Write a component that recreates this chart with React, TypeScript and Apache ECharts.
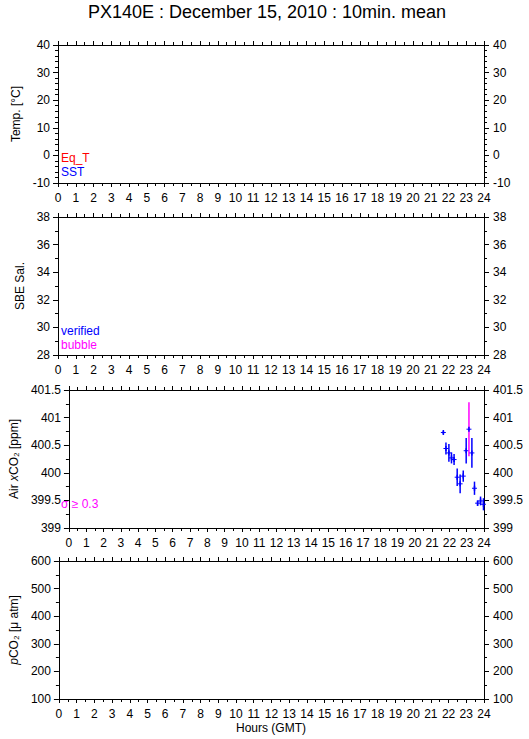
import React, { useEffect, useRef } from "react";
import * as echarts from "echarts";

const TITLE = "PX140E : December 15, 2010 : 10min. mean";
const HOUR_TICKS = [0, 24];

const tempRange = [-10, 40];
const salRange = [28, 38];
const xco2Range = [399, 401.5];
const pco2Range = [100, 600];

// Air xCO2 10-min means (hours GMT, ppm, standard deviation)
const airHours = [21.65, 21.8, 21.97, 22.12, 22.27, 22.45, 22.62, 22.8, 22.97, 23.13, 23.3, 23.45, 23.63, 23.8, 23.97];
const airXco2 = [400.73, 400.44, 400.36, 400.27, 400.24, 399.92, 399.8, 399.94, 400.4, 400.79, 400.36, 399.72, 399.45, 399.49, 399.43];
const airSd = [0.03, 0.11, 0.16, 0.1, 0.1, 0.16, 0.17, 0.1, 0.23, 0.49, 0.27, 0.12, 0.05, 0.08, 0.11];

const FONT = "'Liberation Sans', Arial, Helvetica, sans-serif";
const BLUE = "#0000ff";
const MAGENTA = "#ff00ff";
const RED = "#ff0000";

export default function App() {
  const ref = useRef<HTMLDivElement>(null);
  useEffect(() => {
    if (!ref.current) return;
    const chart = echarts.init(ref.current, null, { renderer: "svg" });
    const tops = [45, 217, 390, 561];
    const H = 138;
    const grids = tops.map((t) => ({ left: 58, width: 426, top: t, height: H }));

    const xAxes: any[] = [];
    const yAxes: any[] = [];
    const panels = [
      { range: tempRange, interval: 10, minor: 5, name: "Temp. [°C]", gap: 26 },
      { range: salRange, interval: 2, minor: 2, name: "SBE Sal.", gap: 27 },
      { range: xco2Range, interval: 0.5, minor: 2, name: "Air {i|x}CO\u2082 [ppm]", gap: 43 },
      { range: pco2Range, interval: 100, minor: 2, name: "{i|p}CO\u2082 [\u03bc atm]", gap: 36 },
    ];
    const lineStyle = { color: "#000", width: 1 };
    panels.forEach((p, i) => {
      const common = {
        type: "value",
        gridIndex: i,
        min: HOUR_TICKS[0],
        max: HOUR_TICKS[1],
        interval: 1,
        splitLine: { show: false },
        axisLine: { show: true, onZero: false, lineStyle },
        axisTick: { show: true, inside: false, length: 4, lineStyle },
        minorTick: { show: true, splitNumber: 2, length: 3, lineStyle },
      };
      xAxes.push({
        ...common,
        position: "bottom",
        axisLabel: { show: true, color: "#000", fontSize: 12, fontFamily: FONT, margin: 9 },
      });
      xAxes.push({ ...common, position: "top", axisLabel: { show: false } });
      const ycommon = {
        type: "value",
        gridIndex: i,
        min: p.range[0],
        max: p.range[1],
        interval: p.interval,
        splitLine: { show: false },
        axisLine: { show: true, onZero: false, lineStyle },
        axisTick: { show: true, inside: false, length: 5, lineStyle },
        minorTick: { show: true, splitNumber: p.minor, length: 3, lineStyle },
      };
      yAxes.push({
        ...ycommon,
        position: "left",
        name: p.name,
        nameLocation: "middle",
        nameGap: p.gap,
        nameTextStyle: {
          color: "#000",
          fontSize: 12,
          fontFamily: FONT,
          rich: { i: { fontStyle: "italic", fontSize: 12, fontFamily: FONT, color: "#000" } },
        },
        axisLabel: { show: true, color: "#000", fontSize: 12, fontFamily: FONT, margin: 8 },
      });
      yAxes.push({
        ...ycommon,
        position: "right",
        axisLabel: { show: true, color: "#000", fontSize: 12, fontFamily: FONT, margin: 9 },
      });
    });

    const airData = airHours.map((h, k) => [h, airXco2[k], airSd[k]]);

    const option: any = {
      animation: false,
      backgroundColor: "#fff",
      grid: grids,
      xAxis: xAxes,
      yAxis: yAxes,
      graphic: [
        { type: "text", x: 267, y: 3, style: { text: TITLE, fontSize: 18, fontFamily: FONT, fill: "#000", textAlign: "center", textVerticalAlign: "top" } },
        { type: "text", x: 271, y: 728, style: { text: "Hours (GMT)", fontSize: 12, fontFamily: FONT, fill: "#000", textAlign: "center", textVerticalAlign: "middle" } },
        { type: "text", x: 61, y: 158, style: { text: "Eq_T", fontSize: 12, fontFamily: FONT, fill: RED, textVerticalAlign: "middle" } },
        { type: "text", x: 61, y: 172, style: { text: "SST", fontSize: 12, fontFamily: FONT, fill: BLUE, textVerticalAlign: "middle" } },
        { type: "text", x: 61, y: 331, style: { text: "verified", fontSize: 12, fontFamily: FONT, fill: BLUE, textVerticalAlign: "middle" } },
        { type: "text", x: 61, y: 345, style: { text: "bubble", fontSize: 12, fontFamily: FONT, fill: MAGENTA, textVerticalAlign: "middle" } },
        { type: "text", x: 61, y: 504, style: { text: "\u03c3 \u2265 0.3", fontSize: 12, fontFamily: FONT, fill: MAGENTA, textVerticalAlign: "middle" } },
      ],
      series: [
        {
          type: "custom",
          xAxisIndex: 4,
          yAxisIndex: 4,
          data: airData,
          renderItem: (params: any, api: any) => {
            const x = api.value(0);
            const y = api.value(1);
            const e = api.value(2);
            const p = api.coord([x, y]);
            const t = api.coord([x, y + e]);
            const b = api.coord([x, y - e]);
            const col = e >= 0.3 ? MAGENTA : BLUE;
            return {
              type: "group",
              children: [
                { type: "line", shape: { x1: p[0], y1: t[1], x2: p[0], y2: b[1] }, style: { stroke: col, lineWidth: 1.5 } },
                { type: "line", shape: { x1: p[0], y1: p[1] - 2.5, x2: p[0], y2: p[1] + 2.5 }, style: { stroke: BLUE, lineWidth: 1.5 } },
                { type: "line", shape: { x1: p[0] - 2.5, y1: p[1], x2: p[0] + 2.5, y2: p[1] }, style: { stroke: BLUE, lineWidth: 1 } },
              ],
            };
          },
        },
      ],
    };
    chart.setOption(option);
    return () => chart.dispose();
  }, []);
  return <div ref={ref} style={{ position: "fixed", left: 0, top: 0, width: 529, height: 739 }} />;
}
